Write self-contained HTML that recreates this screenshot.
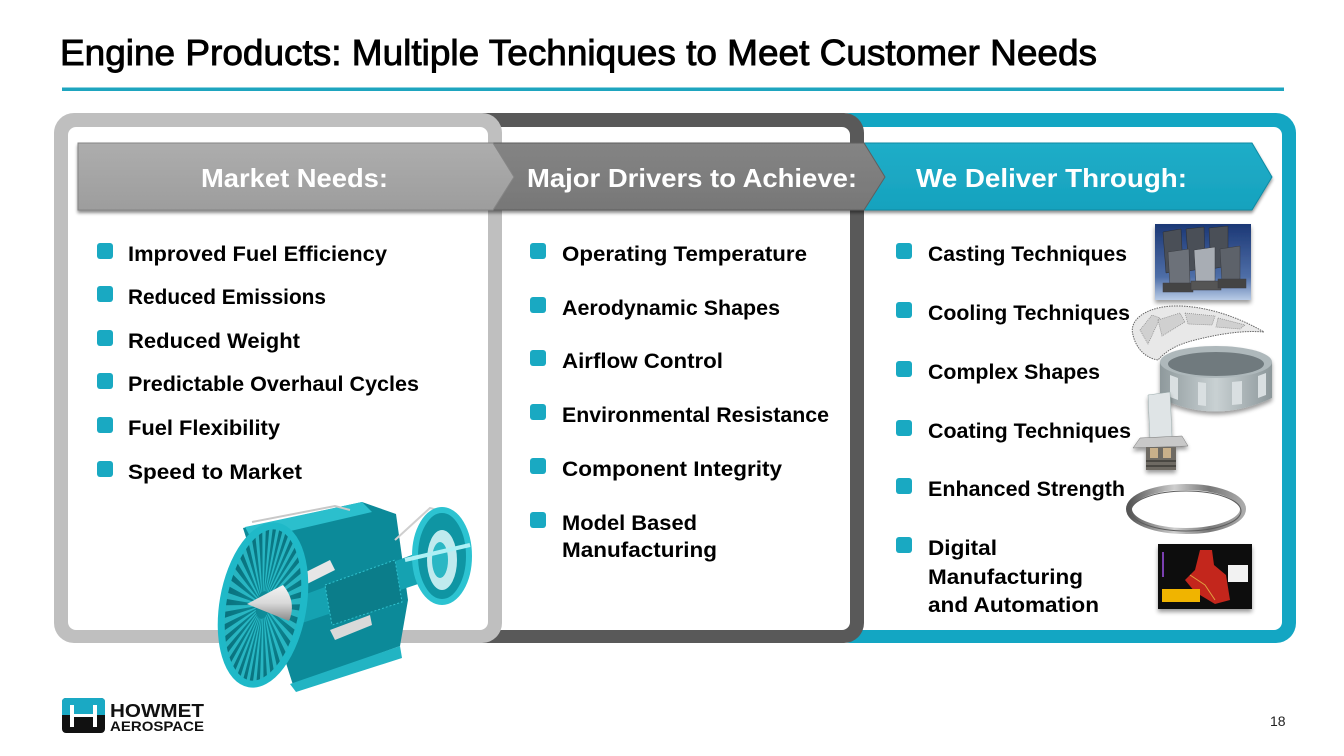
<!DOCTYPE html>
<html><head><meta charset="utf-8"><style>
html,body{margin:0;padding:0;background:#fff;}
svg{display:block;}
text{font-family:"Liberation Sans",Arial,sans-serif;}
</style></head><body>
<svg width="1344" height="756" viewBox="0 0 1344 756" xmlns="http://www.w3.org/2000/svg">
<defs>
<filter id="sh" x="-5%" y="-20%" width="110%" height="150%"><feGaussianBlur in="SourceAlpha" stdDeviation="1.5"/><feOffset dy="2.5" result="b"/><feComponentTransfer><feFuncA type="linear" slope="0.45"/></feComponentTransfer><feMerge><feMergeNode/><feMergeNode in="SourceGraphic"/></feMerge></filter>
<filter id="sh2" x="-20%" y="-20%" width="140%" height="150%"><feGaussianBlur in="SourceAlpha" stdDeviation="2"/><feOffset dy="3" result="b"/><feComponentTransfer><feFuncA type="linear" slope="0.4"/></feComponentTransfer><feMerge><feMergeNode/><feMergeNode in="SourceGraphic"/></feMerge></filter>
<linearGradient id="g1" x1="0" y1="0" x2="0" y2="1"><stop offset="0" stop-color="#adadad"/><stop offset="1" stop-color="#9d9d9d"/></linearGradient>
<linearGradient id="g2" x1="0" y1="0" x2="0" y2="1"><stop offset="0" stop-color="#848484"/><stop offset="1" stop-color="#777"/></linearGradient>
<linearGradient id="g3" x1="0" y1="0" x2="0" y2="1"><stop offset="0" stop-color="#20adc8"/><stop offset="1" stop-color="#16a2be"/></linearGradient>
<linearGradient id="blue" x1="0" y1="0" x2="0" y2="1"><stop offset="0" stop-color="#1c3876"/><stop offset="0.7" stop-color="#4f6fa8"/><stop offset="1" stop-color="#b8cbe6"/></linearGradient>
<linearGradient id="cone" x1="0" y1="0" x2="0" y2="1"><stop offset="0" stop-color="#f4f4f4"/><stop offset="0.5" stop-color="#d9d9d9"/><stop offset="1" stop-color="#8a8a8a"/></linearGradient>
<linearGradient id="shroud" x1="0" y1="0" x2="1" y2="0"><stop offset="0" stop-color="#8e999c"/><stop offset="0.5" stop-color="#c9d1d3"/><stop offset="1" stop-color="#8c979a"/></linearGradient>
<linearGradient id="ring" x1="0" y1="0" x2="1" y2="0"><stop offset="0" stop-color="#555"/><stop offset="0.4" stop-color="#cfcfcf"/><stop offset="0.7" stop-color="#777"/><stop offset="1" stop-color="#aaa"/></linearGradient>
<radialGradient id="fan" cx="0.55" cy="0.5" r="0.6"><stop offset="0" stop-color="#0f8f9c"/><stop offset="1" stop-color="#086c78"/></radialGradient>
</defs>

<!-- Title -->
<text x="60" y="65" font-size="36" fill="#000" stroke="#000" stroke-width="0.9" textLength="1037" lengthAdjust="spacingAndGlyphs">Engine Products: Multiple Techniques to Meet Customer Needs</text>
<rect x="62" y="87.5" width="1222" height="3.5" fill="#1ea5bf"/>

<!-- Panels -->
<rect x="830" y="113" width="466" height="530" rx="20" fill="#13a6c3"/>
<rect x="840" y="127" width="442" height="503" rx="8" fill="#fff"/>
<rect x="460" y="113" width="404" height="530" rx="20" fill="#595959"/>
<rect x="470" y="127" width="380" height="503" rx="8" fill="#fff"/>
<rect x="54" y="113" width="448" height="530" rx="20" fill="#bfbfbf"/>
<rect x="68" y="127" width="420" height="503" rx="8" fill="#fff"/>

<!-- Arrows -->
<g filter="url(#sh)">
<polygon points="850,143 1252,143 1272,177 1252,210 850,210" fill="url(#g3)" stroke="#0f8aa3" stroke-width="1"/>
<polygon points="480,143 864,143 885,177 864,210 480,210" fill="url(#g2)" stroke="#5e5e5e" stroke-width="1"/>
<polygon points="78,143 493,143 514,177 493,210 78,210" fill="url(#g1)" stroke="#858585" stroke-width="1"/>
</g>
<text x="201" y="187" font-size="26" font-weight="bold" fill="#fff" textLength="187" lengthAdjust="spacingAndGlyphs">Market Needs:</text>
<text x="527" y="187" font-size="26" font-weight="bold" fill="#fff" textLength="330" lengthAdjust="spacingAndGlyphs">Major Drivers to Achieve:</text>
<text x="916" y="187" font-size="26" font-weight="bold" fill="#fff" textLength="271" lengthAdjust="spacingAndGlyphs">We Deliver Through:</text>

<!-- Column 1 -->
<g fill="#19a9c2">
<rect x="97" y="243" width="16" height="16" rx="3"/>
<rect x="97" y="286" width="16" height="16" rx="3"/>
<rect x="97" y="330" width="16" height="16" rx="3"/>
<rect x="97" y="373" width="16" height="16" rx="3"/>
<rect x="97" y="417" width="16" height="16" rx="3"/>
<rect x="97" y="461" width="16" height="16" rx="3"/>
</g>
<g font-size="21" font-weight="bold" fill="#000">
<text x="128" y="261" textLength="259" lengthAdjust="spacingAndGlyphs">Improved Fuel Efficiency</text>
<text x="128" y="304" textLength="198" lengthAdjust="spacingAndGlyphs">Reduced Emissions</text>
<text x="128" y="348" textLength="172" lengthAdjust="spacingAndGlyphs">Reduced Weight</text>
<text x="128" y="391" textLength="291" lengthAdjust="spacingAndGlyphs">Predictable Overhaul Cycles</text>
<text x="128" y="435" textLength="152" lengthAdjust="spacingAndGlyphs">Fuel Flexibility</text>
<text x="128" y="479" textLength="174" lengthAdjust="spacingAndGlyphs">Speed to Market</text>
</g>

<!-- Column 2 -->
<g fill="#19a9c2">
<rect x="530" y="243" width="16" height="16" rx="3"/>
<rect x="530" y="297" width="16" height="16" rx="3"/>
<rect x="530" y="350" width="16" height="16" rx="3"/>
<rect x="530" y="404" width="16" height="16" rx="3"/>
<rect x="530" y="458" width="16" height="16" rx="3"/>
<rect x="530" y="512" width="16" height="16" rx="3"/>
</g>
<g font-size="21" font-weight="bold" fill="#000">
<text x="562" y="261" textLength="245" lengthAdjust="spacingAndGlyphs">Operating Temperature</text>
<text x="562" y="315" textLength="218" lengthAdjust="spacingAndGlyphs">Aerodynamic Shapes</text>
<text x="562" y="368" textLength="161" lengthAdjust="spacingAndGlyphs">Airflow Control</text>
<text x="562" y="422" textLength="267" lengthAdjust="spacingAndGlyphs">Environmental Resistance</text>
<text x="562" y="476" textLength="220" lengthAdjust="spacingAndGlyphs">Component Integrity</text>
<text x="562" y="530" textLength="135" lengthAdjust="spacingAndGlyphs">Model Based</text>
<text x="562" y="557" textLength="155" lengthAdjust="spacingAndGlyphs">Manufacturing</text>
</g>

<!-- Column 3 -->
<g fill="#19a9c2">
<rect x="896" y="243" width="16" height="16" rx="3"/>
<rect x="896" y="302" width="16" height="16" rx="3"/>
<rect x="896" y="361" width="16" height="16" rx="3"/>
<rect x="896" y="420" width="16" height="16" rx="3"/>
<rect x="896" y="478" width="16" height="16" rx="3"/>
<rect x="896" y="537" width="16" height="16" rx="3"/>
</g>
<g font-size="21" font-weight="bold" fill="#000">
<text x="928" y="261" textLength="199" lengthAdjust="spacingAndGlyphs">Casting Techniques</text>
<text x="928" y="320" textLength="202" lengthAdjust="spacingAndGlyphs">Cooling Techniques</text>
<text x="928" y="379" textLength="172" lengthAdjust="spacingAndGlyphs">Complex Shapes</text>
<text x="928" y="438" textLength="203" lengthAdjust="spacingAndGlyphs">Coating Techniques</text>
<text x="928" y="496" textLength="197" lengthAdjust="spacingAndGlyphs">Enhanced Strength</text>
<text x="928" y="555" textLength="69" lengthAdjust="spacingAndGlyphs">Digital</text>
<text x="928" y="584" textLength="155" lengthAdjust="spacingAndGlyphs">Manufacturing</text>
<text x="928" y="612" textLength="171" lengthAdjust="spacingAndGlyphs">and Automation</text>
</g>

<!-- Image 1: casting blades -->
<g filter="url(#sh2)">
<rect x="1155" y="224" width="96" height="76" fill="url(#blue)"/>
</g>
<g fill="#4a4f57" stroke="#2a2d33" stroke-width="0.5">
<path d="M1163,232 L1181,229 L1183,270 L1166,273 Z"/>
<path d="M1186,229 L1204,227 L1205,268 L1189,271 Z"/>
<path d="M1209,228 L1228,226 L1228,266 L1211,269 Z"/>
</g>
<g fill="#7e838b" stroke="#3a3d43" stroke-width="0.5">
<path d="M1168,252 L1189,249 L1190,283 L1170,286 Z" fill="#6c7179"/>
<path d="M1194,250 L1215,247 L1215,281 L1196,284 Z" fill="#a8adb4"/>
<path d="M1220,249 L1240,246 L1240,279 L1222,282 Z" fill="#5d626a"/>
<rect x="1163" y="283" width="30" height="9" fill="#444"/>
<rect x="1191" y="281" width="30" height="9" fill="#555"/>
<rect x="1218" y="279" width="28" height="9" fill="#444"/>
</g>

<!-- Image 2: cooling airfoil -->
<path d="M1133,335 C1128,318 1150,305 1180,306 C1210,307 1240,318 1264,332 C1240,330 1215,335 1195,340 C1175,345 1165,352 1158,360 C1145,358 1136,348 1133,335 Z" fill="#e8e8e8" stroke="#666" stroke-width="1" stroke-dasharray="1.5 1"/>
<g fill="#d0d0d0" stroke="#888" stroke-width="0.7" stroke-dasharray="1 1">
<path d="M1140,330 L1152,315 L1160,318 L1148,344 Z"/>
<path d="M1158,320 L1180,313 L1185,322 L1162,336 Z"/>
<path d="M1185,313 L1215,316 L1212,325 L1188,324 Z"/>
<path d="M1218,318 L1245,325 L1240,329 L1216,327 Z"/>
</g>

<!-- Image 3: shroud -->
<g filter="url(#sh2)">
<path d="M1160,362 L1160,398 Q1215,425 1272,398 L1272,362 Z" fill="url(#shroud)"/>
<ellipse cx="1216" cy="362" rx="56" ry="16" fill="#aeb8bb"/>
<ellipse cx="1216" cy="364" rx="48" ry="12" fill="#6f7a7e"/>
</g>
<g fill="#d9dfe1">
<path d="M1170,375 L1178,378 L1178,400 L1170,397 Z"/>
<path d="M1198,382 L1206,383 L1206,406 L1198,405 Z"/>
<path d="M1232,382 L1242,381 L1242,404 L1232,405 Z"/>
<path d="M1258,376 L1266,373 L1266,395 L1258,398 Z"/>
</g>

<!-- Image 4: coated blade -->
<g filter="url(#sh2)">
<path d="M1148,395 L1170,392 L1172,437 L1150,440 Z" fill="#dfe4e6" stroke="#9aa" stroke-width="0.5"/>
<path d="M1140,438 L1182,436 L1188,446 L1133,448 Z" fill="#c8c8c8" stroke="#777" stroke-width="0.5"/>
<rect x="1146" y="447" width="30" height="23" fill="#6e6a64"/>
<rect x="1150" y="448" width="8" height="10" fill="#c9b08a"/>
<rect x="1163" y="448" width="8" height="10" fill="#c9b08a"/>
<rect x="1146" y="460" width="30" height="2" fill="#4a4743"/>
<rect x="1146" y="465" width="30" height="2" fill="#4a4743"/>
</g>

<!-- Image 5: ring -->
<ellipse cx="1186" cy="509" rx="57" ry="22" fill="none" stroke="url(#ring)" stroke-width="6"/>
<ellipse cx="1186" cy="511" rx="55" ry="20" fill="none" stroke="#5d5d5d" stroke-width="1"/>

<!-- Image 6: digital -->
<g filter="url(#sh2)">
<rect x="1158" y="544" width="94" height="65" fill="#0b0b0b"/>
</g>
<path d="M1200,550 L1212,550 L1214,565 L1226,575 L1230,600 L1215,604 L1195,592 L1185,580 L1195,570 Z" fill="#c3261c"/>
<path d="M1190,575 L1205,585 L1215,600" stroke="#e0a040" stroke-width="1" fill="none"/>
<rect x="1162" y="589" width="38" height="13" fill="#f0b400"/>
<rect x="1228" y="565" width="20" height="17" fill="#f2f2f2"/>
<rect x="1162" y="552" width="2" height="25" fill="#7a3fb0"/>

<!-- Engine -->
<g>
<path d="M243,528 L362,502 L396,514 L408,600 L400,646 L293,685 Z" fill="#0c8a99"/>
<path d="M245,527 L362,502 L372,512 L252,540 Z" fill="#2bbfcd"/>
<path d="M290,684 L400,646 L402,658 L296,692 Z" fill="#22b4c3"/>
<path d="M252,522 L335,506 L350,510" fill="none" stroke="#c8c8c8" stroke-width="2"/>
<path d="M395,540 L430,508 L445,512" fill="none" stroke="#cfcfcf" stroke-width="2"/>
<path d="M290,600 L420,552 L430,580 L296,625 Z" fill="#15a2b1"/>
<path d="M325,585 L395,560 L402,602 L332,625 Z" fill="#0b7d8a" stroke="#31c2cf" stroke-width="1" stroke-dasharray="2 2"/>
<path d="M300,575 L330,560 L335,570 L305,585 Z" fill="#e6e6e6"/>
<path d="M330,630 L370,615 L372,625 L335,640 Z" fill="#d9d9d9"/>
<ellipse cx="442" cy="556" rx="27" ry="46" fill="#0f95a3" stroke="#2cc3d1" stroke-width="6"/>
<ellipse cx="442" cy="560" rx="15" ry="30" fill="#bfeaee"/>
<ellipse cx="440" cy="560" rx="8" ry="18" fill="#2ab7c4"/>
<path d="M405,560 L470,545" stroke="#aef0f5" stroke-width="4"/>
<g transform="translate(263,605) rotate(10)">
<ellipse cx="0" cy="0" rx="40" ry="80" fill="url(#fan)"/>
<g transform="scale(0.5,1)">
<circle cx="0" cy="0" r="46" fill="none" stroke="#33c9d6" stroke-width="64" stroke-dasharray="4 4" opacity="0.75"/>
</g>
<ellipse cx="0" cy="0" rx="40" ry="80" fill="none" stroke="#1fb9c8" stroke-width="7"/>
</g>
<path d="M247,604 L283,585 Q297,602 289,621 Z" fill="url(#cone)"/>
</g>

<!-- Logo -->
<rect x="62" y="698" width="43" height="35" rx="4" fill="#111"/>
<path d="M66,698 H101 Q105,698 105,702 V715 H62 V702 Q62,698 66,698 Z" fill="#1aa9c4"/>
<rect x="70" y="705" width="4" height="22" fill="#fff"/>
<rect x="93" y="705" width="4" height="22" fill="#fff"/>
<rect x="70" y="714" width="27" height="3" fill="#fff"/>
<text x="110" y="717" font-size="18" font-weight="bold" fill="#111" textLength="94" lengthAdjust="spacingAndGlyphs">HOWMET</text>
<text x="110" y="731" font-size="14" font-weight="bold" fill="#111" textLength="94" lengthAdjust="spacingAndGlyphs">AEROSPACE</text>

<!-- Page number -->
<text x="1270" y="726" font-size="14" fill="#222">18</text>
</svg>
</body></html>
